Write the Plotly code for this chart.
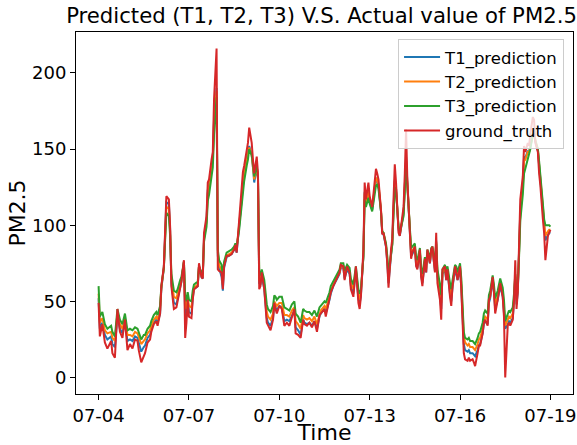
import pandas as pd
import plotly.graph_objects as go

# hours since 07-04 00:00
hours = [0, 1, 3, 5, 7, 10, 11, 13, 15, 17, 19, 21, 23, 25, 27, 29, 31, 32, 34, 36, 37, 39, 41, 42, 44, 46, 47, 49,
         50, 52, 53, 54, 56, 57, 58, 60, 62, 63, 65, 66, 68, 69, 70, 71, 72, 74, 75, 76, 79, 80, 82, 83, 84, 86, 87, 88,
         90, 91, 92, 94, 95, 96, 98, 99, 100, 102, 104, 106, 108, 109, 110, 112, 114, 115, 116, 118, 119, 120, 122, 123,
         124, 126, 127, 128, 129, 130, 132, 134, 135, 137, 139, 140, 141, 142, 144, 146, 148, 150, 152, 154, 156, 157,
         159, 161, 163, 164, 166, 168, 170, 172, 174, 176, 177, 180, 181, 184, 185, 187, 189, 192, 193, 195, 196, 198,
         200, 201, 203, 204, 205, 207, 208, 209, 211, 212, 213, 215, 216, 218, 219, 221, 222, 223, 225, 226, 227, 229,
         230, 231, 233, 234, 235, 236, 237, 239, 240, 241, 243, 244, 245, 246, 248, 249, 250, 252, 253, 254, 256, 257,
         258, 260, 261, 262, 264, 265, 266, 268, 269, 270, 272, 273, 274, 276, 277, 278, 280, 281, 282, 284, 285, 286,
         288, 289, 291, 292, 294, 295, 296, 298, 299, 300, 302, 303, 304, 306, 307, 308, 310, 311, 312, 314, 315, 316,
         318, 319, 320, 322, 323, 324, 326, 327, 328, 330, 331, 332, 333, 334, 335, 336, 338, 339, 340, 342, 343, 344,
         346, 347, 348, 350, 351, 352, 354, 355, 356, 358, 359, 360]

ground_truth = [49, 27, 35, 23, 19, 24, 16, 13, 45, 30, 26, 38, 18, 22, 19, 25, 24, 18, 10, 15, 16, 23, 25, 30, 35, 37, 34, 42,
                60, 73, 97, 119, 117, 99, 60, 45, 46, 51, 61, 63, 77, 26, 36, 51, 40, 39, 51, 58, 60, 75, 66, 65, 95, 106, 128, 130,
                143, 148, 183, 216, 71, 70, 69, 58, 73, 80, 80, 81, 84, 87, 82, 104, 123, 135, 139, 150, 154, 164, 154, 143,
                134, 145, 134, 58, 60, 69, 58, 36, 34, 31, 38, 49, 45, 42, 47, 45, 34, 36, 34, 40, 45, 29,
                28, 26, 38, 35, 34, 36, 33, 37, 30, 41, 42, 45, 40, 51, 56, 60, 64, 69, 74, 73, 64, 73,
                69, 58, 53, 64, 73, 49, 45, 53, 84, 128, 117, 128, 119, 112, 121, 137, 134, 130, 110, 94, 95, 86,
                75, 59, 84, 91, 117, 140, 128, 95, 93, 100, 112, 134, 163, 130, 95, 78, 82, 86, 73, 71, 84, 66,
                60, 78, 69, 84, 75, 84, 86, 69, 95, 62, 51, 38, 71, 73, 64, 71, 53, 47, 60, 73, 69, 64,
                73, 58, 16, 12, 11, 13, 11, 12, 10, 7.5, 16, 21, 21, 29, 36, 38, 34, 51, 53, 66, 56, 42,
                51, 56, 62, 53, 40, 0, 34, 36, 34, 38, 51, 77, 45, 56, 86, 117, 132, 152, 148, 154, 152, 160,
                171, 169, 154, 148, 134, 126, 104, 95, 77, 93, 95, 97]

t1_prediction = [52, 32, 36, 28, 25, 27, 22, 20, 40, 32, 29, 37, 24, 25, 24, 27, 26, 23, 17, 20, 21, 26, 28, 32, 36, 38, 36, 42,
                 58, 72, 95, 115, 114, 97, 62, 49, 48, 52, 61, 63, 76, 41, 40, 51, 43, 42, 52, 58, 60, 73, 66, 65, 92, 103, 123, 126,
                 139, 144, 170, 190, 80, 72, 66, 57, 72, 79, 80, 81, 84, 86, 82, 100, 118, 130, 134, 144, 147, 152, 146, 138,
                 128, 138, 130, 62, 61, 67, 58, 39, 36, 34, 39, 48, 46, 44, 47, 46, 37, 38, 37, 41, 44, 33,
                 31, 28, 38, 36, 35, 36, 34, 37, 32, 40, 42, 45, 42, 51, 55, 60, 63, 68, 72, 72, 65, 71,
                 68, 60, 55, 63, 70, 52, 48, 54, 80, 122, 114, 122, 116, 110, 117, 131, 129, 126, 109, 95, 94, 86,
                 76, 62, 80, 88, 111, 130, 124, 97, 93, 98, 108, 126, 145, 128, 98, 80, 81, 85, 74, 72, 82, 67,
                 62, 76, 69, 82, 75, 82, 84, 70, 90, 66, 54, 45, 68, 71, 64, 70, 55, 50, 59, 71, 68, 64,
                 71, 59, 22, 18, 17, 18, 16, 16, 15, 14, 18, 21, 22, 29, 35, 37, 35, 49, 52, 64, 56, 45,
                 51, 56, 60, 53, 43, 32, 35, 37, 36, 39, 50, 66, 48, 56, 82, 110, 127, 145, 144, 149, 148, 153,
                 160, 162, 155, 149, 138, 130, 110, 100, 90, 94, 95, 95]

t2_prediction = [55, 36, 39, 31, 29, 30, 26, 24, 42, 35, 32, 39, 28, 28, 27, 30, 29, 27, 22, 24, 25, 29, 31, 34, 38, 40, 38, 44,
                 59, 72, 93, 112, 111, 96, 65, 53, 52, 55, 62, 64, 76, 48, 45, 53, 47, 46, 54, 59, 61, 73, 67, 66, 91, 102, 121, 125,
                 138, 143, 168, 188, 82, 74, 70, 61, 74, 80, 81, 82, 85, 87, 84, 99, 117, 129, 133, 143, 146, 151, 146, 139,
                 130, 139, 131, 64, 63, 69, 61, 43, 40, 38, 42, 50, 48, 47, 49, 49, 41, 41, 40, 44, 46, 37,
                 35, 32, 41, 39, 38, 39, 37, 40, 35, 42, 44, 47, 45, 53, 57, 61, 64, 69, 73, 73, 67, 72,
                 70, 62, 58, 64, 71, 55, 51, 56, 80, 121, 114, 122, 116, 111, 117, 131, 130, 127, 110, 96, 95, 87,
                 78, 65, 81, 88, 110, 129, 124, 98, 94, 99, 108, 126, 143, 128, 99, 82, 83, 86, 76, 74, 83, 69,
                 65, 77, 71, 83, 76, 83, 85, 72, 89, 68, 57, 49, 69, 72, 66, 71, 58, 53, 61, 72, 70, 66,
                 72, 62, 27, 23, 21, 22, 20, 20, 19, 18, 22, 25, 26, 32, 38, 40, 38, 51, 54, 65, 58, 48,
                 53, 58, 62, 56, 46, 34, 38, 40, 39, 42, 52, 67, 51, 58, 81, 108, 125, 142, 143, 148, 148, 152,
                 160, 162, 156, 150, 140, 132, 112, 102, 93, 96, 97, 97]

t3_prediction = [60, 40, 43, 35, 32, 34, 30, 27, 45, 38, 35, 42, 31, 32, 31, 33, 32, 30, 25, 28, 28, 32, 34, 37, 41, 43, 41, 47,
                 60, 72, 90, 108, 106, 93, 68, 57, 56, 58, 64, 66, 76, 54, 50, 56, 51, 50, 57, 61, 63, 73, 69, 68, 89, 99, 116, 120,
                 132, 138, 160, 184, 84, 77, 74, 66, 76, 82, 83, 84, 86, 88, 86, 97, 113, 124, 129, 139, 143, 150, 146, 140,
                 132, 139, 132, 70, 67, 71, 64, 48, 45, 43, 47, 54, 53, 51, 53, 53, 46, 45, 44, 48, 50, 42,
                 40, 36, 45, 44, 43, 43, 41, 44, 40, 46, 47, 50, 49, 56, 60, 63, 67, 71, 75, 75, 70, 74,
                 72, 65, 61, 66, 73, 58, 55, 58, 79, 117, 112, 118, 114, 109, 114, 126, 127, 124, 109, 96, 95, 88,
                 80, 68, 81, 87, 107, 125, 122, 99, 95, 99, 106, 123, 138, 126, 100, 85, 86, 88, 79, 77, 85, 72,
                 68, 79, 74, 84, 78, 85, 86, 75, 88, 71, 61, 54, 71, 74, 69, 73, 62, 58, 64, 74, 73, 69,
                 75, 65, 30, 26, 25, 26, 24, 24, 23, 22, 26, 29, 30, 36, 42, 44, 42, 54, 57, 67, 61, 52,
                 57, 61, 65, 59, 51, 37, 42, 44, 43, 46, 55, 68, 55, 60, 79, 103, 120, 134, 137, 144, 146, 150,
                 160, 160, 155, 150, 142, 134, 114, 104, 100, 100, 100, 99]

series_names = ["T1_prediction", "T2_prediction", "T3_prediction", "ground_truth"]
series_colors = ["#1f77b4", "#ff7f0e", "#2ca02c", "#d62728"]
tick_labels = ["07-04", "07-07", "07-10", "07-13", "07-16", "07-19"]

base = pd.Timestamp("2021-07-04")
times = [base + pd.Timedelta(hours=h) for h in hours]
tick_vals = [pd.Timestamp("2021-" + t) for t in tick_labels]

fig = go.Figure()
for name, vals, col in zip(series_names, [t1_prediction, t2_prediction, t3_prediction, ground_truth], series_colors):
    fig.add_trace(go.Scatter(x=times, y=vals, mode="lines", name=name,
                             line=dict(color=col, width=2)))

span = times[-1] - times[0]
xr = [times[0] - span * 0.05, times[-1] + span * 0.05]

font = "DejaVu Sans, sans-serif"
fig.update_layout(
    width=577, height=445,
    margin=dict(l=76, r=4, t=32, b=51, autoexpand=False),
    paper_bgcolor="white", plot_bgcolor="white",
    font=dict(family=font, size=18, color="black"),
    title=dict(text="Predicted (T1, T2, T3) V.S. Actual value of PM2.5", x=0.494, xanchor="center",
               xref="paper", y=0.966, yref="container", yanchor="middle", font=dict(size=21.2)),
    showlegend=True,
    legend=dict(x=0.982, y=0.981, xanchor="right", yanchor="top",
                bgcolor="rgba(255,255,255,0.8)", bordercolor="#cccccc", borderwidth=1,
                font=dict(size=16.5), tracegroupgap=0, itemwidth=36),
)
fig.update_xaxes(range=xr, tickvals=tick_vals, ticktext=tick_labels,
                 showgrid=False, zeroline=False, showline=True, mirror=True,
                 linecolor="black", linewidth=1, ticks="outside", ticklen=5, tickcolor="black",
                 title=dict(text="Time", standoff=4))
fig.update_yaxes(range=[-10.8, 226.8], tickvals=[0, 50, 100, 150, 200],
                 showgrid=False, zeroline=False, showline=True, mirror=True,
                 linecolor="black", linewidth=1, ticks="outside", ticklen=5, tickcolor="black",
                 title=dict(text="PM2.5", standoff=0))

fig.write_html("out.html", config={"displayModeBar": False},
               post_script="document.body.style.margin='0';document.body.style.padding='0';")
